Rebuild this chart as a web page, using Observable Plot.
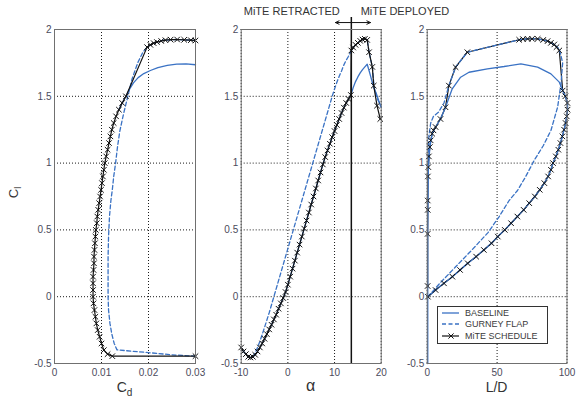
<!DOCTYPE html>
<html><head><meta charset="utf-8">
<script src="https://cdn.jsdelivr.net/npm/d3@7"></script>
<script src="https://cdn.jsdelivr.net/npm/@observablehq/plot@0.6"></script>
<style>
body{margin:0;background:#fff;}
#chart{position:relative;width:576px;height:397px;font-family:"Liberation Sans",Arial,sans-serif;background:#fff;overflow:hidden;}
#chart svg.panel{position:absolute;left:0;top:0;}
.lab{position:absolute;color:#333;font-size:14px;line-height:14px;white-space:nowrap;transform:translateX(-50%);}
.lab sub{font-size:10px;vertical-align:-4px;line-height:0;}
#ylab{position:absolute;left:8px;top:186px;font-size:13px;line-height:13px;color:#333;transform:rotate(-90deg);transform-origin:center;white-space:nowrap;}
#ylab sub{font-size:9px;vertical-align:-3px;line-height:0;}
#legend{position:absolute;left:437px;top:306px;width:111px;height:38px;border:1px solid #333;background:#fff;box-sizing:border-box;}
#legend .row{position:absolute;left:0;height:10px;width:110px;}
#legend .row svg{position:absolute;left:3px;top:0;}
#legend .row span{position:absolute;left:27px;top:0;font-size:9px;line-height:10px;color:#3a3a3a;}
</style></head><body><div id="chart"></div>
<script>
// ---------- shared ticks ----------
const yTicks = [-0.5, 0, 0.5, 1, 1.5, 2];
const cdTicks = [0, 0.01, 0.02, 0.03];
const alphaTicks = [-10, 0, 10, 20];
const ldTicks = [0, 50, 100];
const seriesNames = ["BASELINE", "GURNEY FLAP", "MiTE SCHEDULE"];

// ---------- Panel 1: Cl vs Cd ----------
// retracted part (baseline == MiTE schedule)
const cdRet = [0.0300, 0.0123, 0.0113, 0.0105, 0.0100, 0.0096, 0.0092, 0.0089, 0.0087, 0.0085, 0.0083,
  0.0082, 0.0082, 0.0082, 0.0082, 0.0083, 0.0084, 0.0084, 0.0085, 0.0086, 0.0087, 0.0088, 0.0090, 0.0091,
  0.0093, 0.0095, 0.0097, 0.0099, 0.0101, 0.0103, 0.0105, 0.0107, 0.0110, 0.0113, 0.0116, 0.0119, 0.0122,
  0.0126, 0.0131, 0.0137, 0.0144, 0.0152];
const clRet = [-0.445, -0.445, -0.43, -0.40, -0.35, -0.30, -0.25, -0.20, -0.15, -0.10, -0.05,
  0.00, 0.05, 0.10, 0.15, 0.20, 0.25, 0.30, 0.35, 0.40, 0.45, 0.50, 0.55, 0.60,
  0.65, 0.70, 0.75, 0.80, 0.85, 0.90, 0.95, 1.00, 1.05, 1.10, 1.15, 1.20, 1.25,
  1.30, 1.35, 1.40, 1.45, 1.50];
const cdMiteDep = [0.0197, 0.0204, 0.0211, 0.0218, 0.0227, 0.0236, 0.0247, 0.0261, 0.0276, 0.0290, 0.0300];
const clMiteDep = [1.868, 1.885, 1.898, 1.906, 1.914, 1.920, 1.924, 1.925, 1.923, 1.920, 1.918];
const cdBaseStall = [0.0159, 0.0168, 0.0178, 0.0190, 0.0204, 0.0220, 0.0240, 0.0260, 0.0280, 0.0300];
const clBaseStall = [1.55, 1.60, 1.64, 1.67, 1.693, 1.715, 1.731, 1.741, 1.743, 1.736];
const cdGurney = [0.0300, 0.0250, 0.0204, 0.0133, 0.0127, 0.0122, 0.0118, 0.0115, 0.0114, 0.0114, 0.0114,
  0.0115, 0.0117, 0.0120, 0.0123, 0.0126, 0.0130, 0.0134, 0.0139, 0.0147, 0.0156, 0.0165, 0.0177, 0.0188,
  0.0197, 0.0211, 0.0232, 0.0260, 0.0300];
const clGurney = [-0.445, -0.435, -0.42, -0.398, -0.35, -0.28, -0.20, -0.10, 0.00, 0.15, 0.30,
  0.45, 0.60, 0.72, 0.80, 0.90, 1.00, 1.12, 1.24, 1.37, 1.50, 1.63, 1.75, 1.83,
  1.868, 1.898, 1.920, 1.925, 1.918];

// ---------- Panel 2: Cl vs alpha ----------
const alphaRet = [-10, -9.5, -9, -8.5, -8, -7.5, -7, -6.5, -6, -5.5, -5, -4.5, -4, -3.5, -3, -2.5, -2, -1.5, -1, -0.5,
  0, 0.5, 1, 1.5, 2, 2.5, 3, 3.5, 4, 4.5, 5, 5.5, 6, 6.5, 7, 7.5, 8, 8.5, 9, 9.5, 10, 10.5, 11, 11.5, 12, 12.5, 13, 13.5];
const clRetA = [-0.38, -0.41, -0.43, -0.45, -0.455, -0.45, -0.435, -0.41, -0.38, -0.35, -0.315, -0.28, -0.245, -0.21, -0.17, -0.135, -0.09, -0.05, -0.01, 0.035,
  0.09, 0.15, 0.21, 0.27, 0.33, 0.39, 0.45, 0.51, 0.57, 0.63, 0.69, 0.75, 0.81, 0.87, 0.93, 0.99, 1.045, 1.095, 1.145, 1.194, 1.24, 1.285, 1.33, 1.375, 1.415, 1.45, 1.48, 1.51];
const alphaMiteDep = [13.6, 14, 14.5, 15, 15.5, 16, 16.5, 17, 17.4, 18.1, 18.4, 19.1, 19.8];
const clMiteDepA = [1.843, 1.865, 1.885, 1.90, 1.915, 1.925, 1.93, 1.922, 1.83, 1.72, 1.58, 1.43, 1.33];
const alphaBaseStall = [14, 14.5, 15, 15.5, 16, 16.5, 17, 17.5, 18, 18.5, 19, 19.5, 20];
const clBaseStallA = [1.565, 1.61, 1.645, 1.675, 1.70, 1.72, 1.74, 1.68, 1.615, 1.56, 1.515, 1.465, 1.42];
const alphaGurney = [-7.5, -7, -6.5, -6, -5, -4, -3, -2, -1, 0, 1, 2, 3, 4, 5, 6, 7, 8, 9, 9.5,
  10, 10.5, 11, 11.5, 12, 12.5, 13, 13.5, 14, 14.5, 15, 15.5, 16, 16.5, 17, 17.4, 18.1, 18.5, 19.2, 20];
const clGurneyA = [-0.45, -0.42, -0.38, -0.335, -0.23, -0.12, 0.0, 0.12, 0.24, 0.36, 0.48, 0.60, 0.72, 0.84, 0.96, 1.08, 1.20, 1.32, 1.44, 1.50,
  1.555, 1.605, 1.65, 1.69, 1.735, 1.77, 1.80, 1.835, 1.865, 1.885, 1.90, 1.915, 1.925, 1.93, 1.922, 1.83, 1.72, 1.56, 1.48, 1.42];
const deployAlpha = 13.6;
const arrowEnds = [10.2, 17.7];
const retractedLabel = "MiTE RETRACTED";
const deployedLabel = "MiTE DEPLOYED";
const retractedLabelAlpha = 11.1;
const deployedLabelAlpha = 15.6;

// ---------- Panel 3: Cl vs L/D ----------
const ldRet = [0.5, 6.0, 12.0, 18.0, 23.5, 29.0, 35.0, 40.5, 46.0, 50.5, 55.5, 60.0, 64.5, 69.0, 73.0, 77.0,
  80.5, 83.8, 86.5, 88.5, 90.0, 92.0, 93.8, 95.3, 96.7, 97.9, 99.0, 99.8, 100.4, 100.3, 98.8, 96.9];
const clRetL = [0.00, 0.05, 0.10, 0.15, 0.20, 0.25, 0.30, 0.35, 0.40, 0.45, 0.50, 0.55, 0.60, 0.65, 0.70, 0.75,
  0.80, 0.85, 0.90, 0.95, 1.00, 1.05, 1.10, 1.15, 1.20, 1.25, 1.30, 1.35, 1.40, 1.45, 1.50, 1.543];
const ldMiteDep = [94.5, 92.5, 90.9, 88.5, 86.1, 83.0, 79.0, 75.0, 71.8, 68.5, 65.8, 28.7, 20.3, 15.5, 13.1, 9.5,
  6.0, 4.5, 3.6, 2.5, 1.9, 1.2, 0.8, 0.5, 0.4, 0.4, 0.3, 0.3];
const clMiteDepL = [1.843, 1.868, 1.888, 1.90, 1.913, 1.922, 1.93, 1.93, 1.93, 1.928, 1.923, 1.83, 1.718, 1.58, 1.418, 1.33,
  1.27, 1.245, 1.22, 1.17, 1.12, 1.05, 0.97, 0.90, 0.72, 0.65, 0.47, 0.08];
const ldBaseStall = [94.5, 88.5, 79.0, 67.0, 55.0, 43.1, 29.9, 23.9, 17.9, 13.1, 9.5, 6.0, 3.6, 1.9, 0.8, 0.4, 0.4];
const clBaseStallL = [1.606, 1.668, 1.718, 1.743, 1.723, 1.706, 1.68, 1.643, 1.556, 1.418, 1.33, 1.27, 1.22, 1.12, 0.95, 0.5, -0.5];
const ldGurney = [0.5, 9, 20, 32, 43.5, 51.5, 58.6, 64.6, 70.5, 76.5, 83, 88.5, 93.3, 95.7, 96.9, 94.5,
  90.9, 86.1, 79, 71.8, 65.8, 28.7, 20.3, 15.5, 12, 8, 4.5, 2.5, 1.2, 0.6];
const clGurneyL = [0.0, 0.10, 0.22, 0.35, 0.48, 0.60, 0.72, 0.795, 0.90, 1.02, 1.13, 1.244, 1.42, 1.594, 1.75, 1.855,
  1.888, 1.913, 1.93, 1.93, 1.923, 1.83, 1.718, 1.58, 1.45, 1.38, 1.35, 1.30, 1.20, 1.0];

// ---------- helpers ----------
const zip = (xs, ys) => xs.map((x, i) => ({x, y: ys[i]}));
const BLUE = "#3a72c4", BLACK = "#111";
const lineBase = d => Plot.line(d, {x: "x", y: "y", stroke: BLUE, strokeWidth: 1.3});
const lineGur = d => Plot.line(d, {x: "x", y: "y", stroke: BLUE, strokeWidth: 1.3, strokeDasharray: "4,2.5"});
const lineMite = d => Plot.line(d, {x: "x", y: "y", stroke: BLACK, strokeWidth: 1.2});
const dotsMite = d => Plot.dot(d, {x: "x", y: "y", symbol: "times", r: 2.6, stroke: BLACK, strokeWidth: 1});

function panel({domain, ticks, ml, mr, marks}) {
  const svg = Plot.plot({
    width: 576, height: 397,
    marginTop: 29, marginBottom: 34, marginLeft: ml, marginRight: mr,
    style: {background: "transparent", fontFamily: "'Liberation Sans', Arial, sans-serif", fontSize: "10px", color: "#4b4b5c", overflow: "visible"},
    x: {type: "linear", domain},
    y: {type: "linear", domain: [-0.5, 2]},
    marks: [
      Plot.gridX(ticks, {stroke: "#1a1a1a", strokeOpacity: 1, strokeDasharray: "1,2"}),
      Plot.gridY(yTicks, {stroke: "#1a1a1a", strokeOpacity: 1, strokeDasharray: "1,2"}),
      Plot.axisX(ticks, {tickSize: 0, tickPadding: 5, tickFormat: d => String(d), label: null}),
      Plot.axisY(yTicks, {tickSize: 0, tickPadding: 3, tickFormat: d => String(d), label: null}),
      ...marks,
      Plot.frame({stroke: "#707070"})
    ]
  });
  svg.classList.add("panel");
  return svg;
}

const chart = document.getElementById("chart");

// Panel 1
const retP1 = zip(cdRet, clRet);
const miteP1 = retP1.concat(zip(cdMiteDep, clMiteDep));
const baseP1 = retP1.slice(-3).concat(zip(cdBaseStall, clBaseStall));
chart.appendChild(panel({
  domain: [0, 0.03], ticks: cdTicks, ml: 54, mr: 381,
  marks: [lineBase(baseP1), lineGur(zip(cdGurney, clGurney)), lineMite(miteP1), dotsMite(miteP1)]
}));

// Panel 2
const retP2 = zip(alphaRet, clRetA);
const miteP2 = retP2.concat(zip(alphaMiteDep, clMiteDepA));
const baseP2 = retP2.concat(zip(alphaBaseStall, clBaseStallA));
chart.appendChild(panel({
  domain: [-10, 20], ticks: alphaTicks, ml: 240.7, mr: 195.3,
  marks: [
    lineBase(baseP2), lineGur(zip(alphaGurney, clGurneyA)), lineMite(miteP2), dotsMite(miteP2),
    Plot.ruleX([deployAlpha], {y1: -0.5, y2: 2.09, stroke: BLACK, strokeWidth: 1.5}),
    Plot.arrow(arrowEnds, {x1: () => deployAlpha, x2: d => d, y1: () => 2.052, y2: () => 2.052, stroke: BLACK, strokeWidth: 1, headLength: 6, headAngle: 50}),
    Plot.text([retractedLabel], {x: () => retractedLabelAlpha, y: () => 2.133, text: d => d, textAnchor: "end", fontSize: 11, fill: "#333"}),
    Plot.text([deployedLabel], {x: () => deployedLabelAlpha, y: () => 2.133, text: d => d, textAnchor: "start", fontSize: 11, fill: "#333"})
  ]
}));

// Panel 3
const retP3 = zip(ldRet, clRetL);
const miteP3 = retP3.concat(zip(ldMiteDep, clMiteDepL));
const baseP3 = retP3.concat(zip(ldBaseStall, clBaseStallL));
chart.appendChild(panel({
  domain: [0, 100], ticks: ldTicks, ml: 426.7, mr: 9.5,
  marks: [lineMite(miteP3), lineBase(baseP3), lineGur(zip(ldGurney, clGurneyL)), dotsMite(miteP3)]
}));

// axis titles (HTML, for subscripts)
function addLabel(html, cx, top, size) {
  const d = document.createElement("div");
  d.className = "lab"; d.innerHTML = html;
  d.style.left = cx + "px"; d.style.top = top + "px";
  if (size) { d.style.fontSize = size + "px"; }
  chart.appendChild(d);
}
addLabel("C<sub>d</sub>", 124.5, 380);
addLabel("α", 310.7, 379, 16);
addLabel("L/D", 496.6, 380);
const yl = document.createElement("div");
yl.id = "ylab"; yl.innerHTML = "C<sub>l</sub>";
chart.appendChild(yl);

// legend
const leg = document.createElement("div");
leg.id = "legend";
const rowTops = [0.7, 12.3, 24.0];
seriesNames.forEach((name, i) => {
  const row = document.createElement("div");
  row.className = "row"; row.style.top = rowTops[i] + "px";
  let sample;
  if (i === 0) sample = `<line x1="1" y1="5" x2="18" y2="5" stroke="${BLUE}" stroke-width="1.3"/>`;
  else if (i === 1) sample = `<line x1="1" y1="5" x2="18" y2="5" stroke="${BLUE}" stroke-width="1.3" stroke-dasharray="4,2.5"/>`;
  else sample = `<line x1="1" y1="5" x2="18" y2="5" stroke="${BLACK}" stroke-width="1.2"/><path d="M7.4,2.4L12.6,7.6M7.4,7.6L12.6,2.4" stroke="${BLACK}" stroke-width="1"/>`;
  row.innerHTML = `<svg width="20" height="10">${sample}</svg><span>${name}</span>`;
  leg.appendChild(row);
});
chart.appendChild(leg);
</script></body></html>
